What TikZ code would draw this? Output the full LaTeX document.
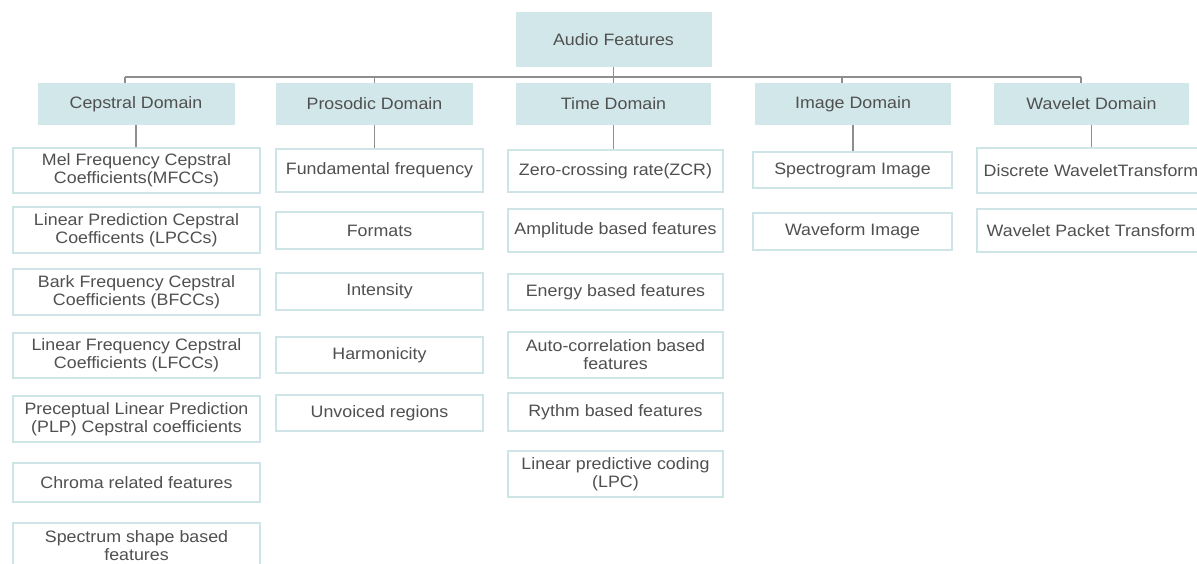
\documentclass[tikz,border=0pt]{standalone}
\usepackage{fontspec}
\setmainfont[FakeStretch=1.08]{Liberation Sans}
\definecolor{headfill}{HTML}{D2E7E9}
\definecolor{leafline}{HTML}{CFE4E6}
\definecolor{linkc}{HTML}{8E8E8E}
\definecolor{txt}{HTML}{505050}
\newcommand\fsz{\fontsize{16.5}{18}\selectfont}
\begin{document}
\begin{tikzpicture}[x=1pt,y=-1pt,
  head/.style={fill=headfill, inner sep=0pt, align=center, font=\fsz, text=txt},
  leaf/.style={draw=leafline, line width=2.5pt, fill=white, inner sep=0pt, align=center, font=\fsz, text=txt},
  link/.style={draw=linkc, line width=1.3pt}]
\useasboundingbox (0,0) rectangle (1197,564);
\clip (0,0) rectangle (1197,564);
\fill[white] (0,0) rectangle (1197,564);
% root
\node[head, minimum width=196, minimum height=55] (root) at (613.5,39.5) {Audio Features};
% domains
\node[head, minimum width=197, minimum height=42] (cep) at (136,104) {Cepstral Domain};
\node[head, minimum width=197, minimum height=42] (pro) at (374.5,104) {Prosodic Domain};
\node[head, minimum width=195, minimum height=42] (tim) at (613.5,104) {Time Domain};
\node[head, minimum width=196, minimum height=42] (img) at (853,104) {Image Domain};
\node[head, minimum width=195, minimum height=42] (wav) at (1091.5,104) {Wavelet Domain};
% bus
\coordinate (busL) at (125,77);
\coordinate (busR) at (1081,77);
\draw[link] (root.south) -- (tim.north);
\draw[link] (busL) -- (busR);
\draw[link] (busL) -- (busL |- cep.north);
\draw[link] (pro.north |- busL) -- (pro.north);
\draw[link] (842,77) -- (842,83);
\draw[link] (busR) -- (busR |- wav.north);
% cepstral leaves
\node[leaf, minimum width=247, minimum height=45] (c1) at (136.5,170.5) {Mel Frequency Cepstral\\Coefficients(MFCCs)};
\node[leaf, minimum width=247, minimum height=46] (c2) at (136.5,230) {Linear Prediction Cepstral\\Coefficents (LPCCs)};
\node[leaf, minimum width=247, minimum height=46] (c3) at (136.5,292) {Bark Frequency Cepstral\\Coefficients (BFCCs)};
\node[leaf, minimum width=247, minimum height=45] (c4) at (136.5,355.5) {Linear Frequency Cepstral\\Coefficients (LFCCs)};
\node[leaf, minimum width=247, minimum height=46] (c5) at (136.5,419) {Preceptual Linear Prediction\\(PLP) Cepstral coefficients};
\node[leaf, minimum width=247, minimum height=39] (c6) at (136.5,482.5) {Chroma related features};
\node[leaf, minimum width=247, minimum height=45] (c7) at (136.5,545.5) {Spectrum shape based\\features};
% prosodic leaves
\node[leaf, minimum width=207, minimum height=43] (p1) at (379.5,170.5) {Fundamental frequency};
\node[leaf, minimum width=207, minimum height=37] (p2) at (379.5,230.5) {Formats};
\node[leaf, minimum width=207, minimum height=37] (p3) at (379.5,291.5) {Intensity};
\node[leaf, minimum width=207, minimum height=36] (p4) at (379.5,355) {Harmonicity};
\node[leaf, minimum width=207, minimum height=36] (p5) at (379.5,413) {Unvoiced regions};
% time leaves
\node[leaf, minimum width=215, minimum height=42] (t1) at (615.5,171) {Zero-crossing rate(ZCR)};
\node[leaf, minimum width=215, minimum height=43] (t2) at (615.5,230.5) {Amplitude based features};
\node[leaf, minimum width=215, minimum height=36] (t3) at (615.5,292) {Energy based features};
\node[leaf, minimum width=215, minimum height=46] (t4) at (615.5,355) {Auto-correlation based\\features};
\node[leaf, minimum width=215, minimum height=38] (t5) at (615.5,412) {Rythm based features};
\node[leaf, minimum width=215, minimum height=46] (t6) at (615.5,474) {Linear predictive coding\\(LPC)};
% image leaves
\node[leaf, minimum width=199, minimum height=36] (i1) at (852.5,170) {Spectrogram Image};
\node[leaf, minimum width=199, minimum height=37] (i2) at (852.5,231.5) {Waveform Image};
% wavelet leaves
\node[leaf, minimum width=228, minimum height=45] (w1) at (1091,170.5) {Discrete WaveletTransform};
\node[leaf, minimum width=228, minimum height=43] (w2) at (1091,230.5) {Wavelet Packet Transform};
% domain to first leaf
\draw[link] (cep.south) -- (cep.south |- c1.north);
\draw[link] (pro.south) -- (pro.south |- p1.north);
\draw[link] (tim.south) -- (tim.south |- t1.north);
\draw[link] (img.south) -- (img.south |- i1.north);
\draw[link] (wav.south) -- (wav.south |- w1.north);
\end{tikzpicture}
\end{document}
